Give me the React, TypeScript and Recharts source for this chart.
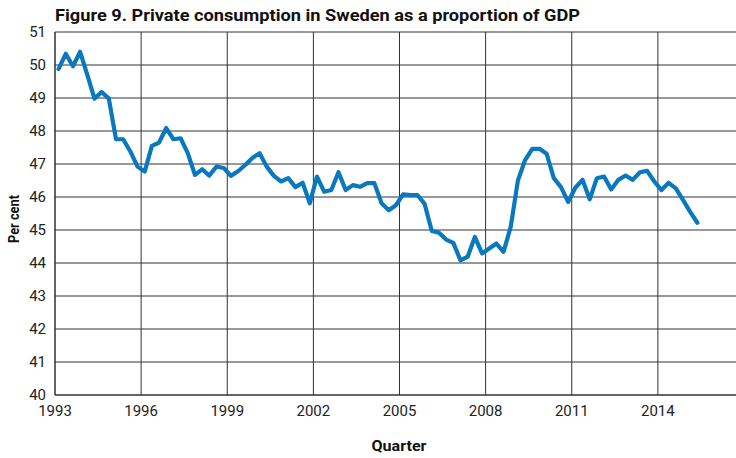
import { LineChart, Line, XAxis, YAxis, CartesianGrid } from "recharts"

// quarterly, 1993Q1 .. 2015Q2
const CONSUMPTION = [
  49.88, 50.34, 49.96, 50.40, 49.70, 48.98, 49.18, 48.98,
  47.75, 47.75, 47.38, 46.92, 46.77, 47.55, 47.65, 48.09,
  47.75, 47.78, 47.33, 46.67, 46.84, 46.65, 46.92, 46.88,
  46.64, 46.78, 46.97, 47.18, 47.33, 46.92, 46.64, 46.47,
  46.57, 46.30, 46.43, 45.81, 46.62, 46.16, 46.21, 46.75,
  46.21, 46.36, 46.31, 46.42, 46.42, 45.81, 45.60, 45.75,
  46.08, 46.06, 46.06, 45.79, 44.97, 44.92, 44.71, 44.61,
  44.08, 44.19, 44.79, 44.29, 44.44, 44.59, 44.34, 45.10,
  46.50, 47.12, 47.46, 47.46, 47.31, 46.57, 46.30, 45.85,
  46.28, 46.52, 45.93, 46.57, 46.62, 46.23, 46.52, 46.65,
  46.52, 46.75, 46.79, 46.47, 46.21, 46.43, 46.26, 45.91,
  45.55, 45.22,
]
const FIRST_YEAR = 1993
const YEAR_TICKS = [1993, 1996, 1999, 2002, 2005, 2008, 2011, 2014]
const Y_TICKS = [40, 41, 42, 43, 44, 45, 46, 47, 48, 49, 50, 51]

const data = CONSUMPTION.map((v, i) => ({ q: i + 0.5, value: v }))
const xTicks = YEAR_TICKS.map((y) => (y - FIRST_YEAR) * 4)

const FONT = "Roboto, 'Liberation Sans', sans-serif"
const GRID = "#333333"

export default function App() {
  return (
    <div style={{ position: "fixed", left: 0, top: 0, width: 736, height: 458, overflow: "hidden", background: "#fff" }}>
      <LineChart width={744} height={458} data={data} margin={{ top: 32, right: 0, left: 0, bottom: 0 }}>
        <CartesianGrid stroke={GRID} strokeWidth={1} />
        <XAxis
          type="number" dataKey="q" domain={[0, 96]} ticks={xTicks} allowDataOverflow height={63}
          axisLine={{ stroke: GRID }} tickLine={false} tickSize={0} tickMargin={10}
          tickFormatter={(v) => String(FIRST_YEAR + v / 4)}
          tick={{ fontSize: 15, fill: "#222", fontFamily: FONT }}
        />
        <YAxis
          type="number" domain={[40, 51]} ticks={Y_TICKS} width={55} allowDataOverflow
          axisLine={{ stroke: GRID }} tickLine={false} tickSize={0} tickMargin={9}
          tick={{ fontSize: 15, fill: "#222", fontFamily: FONT }}
        />
        <Line
          type="linear" dataKey="value" stroke="#0a78be" strokeWidth={4.2}
          dot={false} isAnimationActive={false} strokeLinejoin="round" strokeLinecap="round"
        />
      </LineChart>
      <svg width={736} height={458} style={{ position: "absolute", left: 0, top: 0, pointerEvents: "none" }}>
        <text x={55} y={21} fontFamily={FONT} fontWeight={700} fontSize={17} fill="#111"
          textLength={525} lengthAdjust="spacingAndGlyphs">
          Figure 9. Private consumption in Sweden as a proportion of GDP
        </text>
        <text transform="translate(19,219) rotate(-90)" textAnchor="middle" fontFamily={FONT} fontWeight={700}
          fontSize={15} fill="#111" textLength={48} lengthAdjust="spacingAndGlyphs">
          Per cent
        </text>
        <text x={399} y={451} textAnchor="middle" fontFamily={FONT} fontWeight={700} fontSize={15}
          fill="#111" textLength={55} lengthAdjust="spacingAndGlyphs">
          Quarter
        </text>
      </svg>
    </div>
  )
}
